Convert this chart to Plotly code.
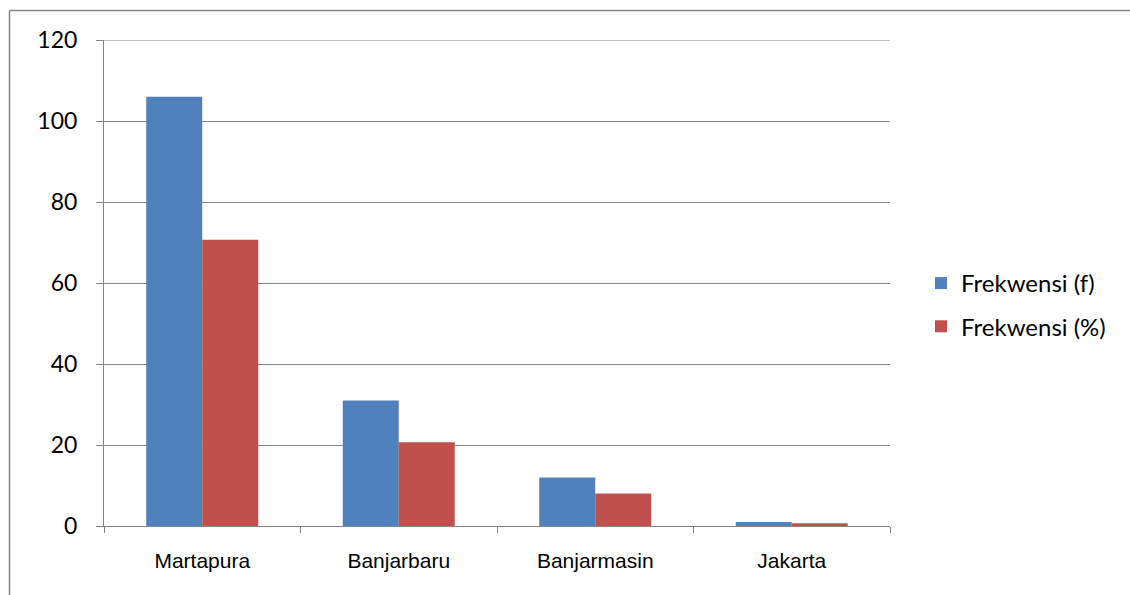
import plotly.graph_objects as go

categories = ["Martapura", "Banjarbaru", "Banjarmasin", "Jakarta"]
freq_f = [106, 31, 12, 1]
freq_pct = [70.67, 20.67, 8, 0.67]
series_names = ["Frekwensi (f)", "Frekwensi (%)"]
y_ticks = [0, 20, 40, 60, 80, 100, 120]

W, H = 1130, 595
L, R, T, B = 104, 240, 40, 69
pw, ph = W - L - R, H - T - B

def px_x(p):
    return (p - L) / pw

def px_y(p):
    return (H - B - p) / ph

fig = go.Figure()
fig.add_trace(go.Bar(x=categories, y=freq_f, name=series_names[0],
                     marker=dict(color="#4F81BD", line=dict(width=0)),
                     legendgroup="a"))
fig.add_trace(go.Bar(x=categories, y=freq_pct, name=series_names[1],
                     marker=dict(color="#C0504D", line=dict(width=0)),
                     legendgroup="b"))

grid = "#868686"
fig.update_layout(
    width=W, height=H,
    margin=dict(l=L, r=R, t=T, b=B, pad=0),
    paper_bgcolor="white", plot_bgcolor="white",
    barmode="group", bargap=0.43, bargroupgap=0,
    font=dict(family="Lato", color="black"),
    legend=dict(x=px_x(921), y=px_y(305), xanchor="left", yanchor="middle",
                font=dict(family="Lato", size=24, color="black"),
                traceorder="grouped", tracegroupgap=9,
                bgcolor="rgba(0,0,0,0)"),
    xaxis=dict(type="category", showgrid=False, showline=True, linecolor=grid,
               linewidth=1, ticks="outside", tickson="boundaries", ticklen=6,
               tickcolor=grid, tickwidth=1,
               tickfont=dict(family="Liberation Sans", size=21, color="black"),
               ticklabelstandoff=16),
    yaxis=dict(range=[0, 120], tickvals=y_ticks, showgrid=True, gridcolor=grid,
               gridwidth=1, showline=True, linecolor=grid, linewidth=1,
               ticks="outside", ticklen=7, tickcolor=grid, tickwidth=1,
               zeroline=False,
               tickfont=dict(family="Lato", size=23, color="black"),
               ticklabelstandoff=14),
)

# top gridline at 120
fig.add_shape(type="line", xref="paper", yref="y", x0=0, x1=1, y0=120, y1=120,
              line=dict(color=grid, width=1), layer="below")

# outer chart-area border (top and left visible)
fig.add_shape(type="line", xref="paper", yref="paper",
              x0=px_x(9.5), y0=px_y(10.5), x1=px_x(1140), y1=px_y(10.5),
              line=dict(color=grid, width=1.5), layer="above")
fig.add_shape(type="line", xref="paper", yref="paper",
              x0=px_x(9.5), y0=px_y(10.5), x1=px_x(9.5), y1=px_y(610),
              line=dict(color=grid, width=1.5), layer="above")

fig.write_html("out.html")
